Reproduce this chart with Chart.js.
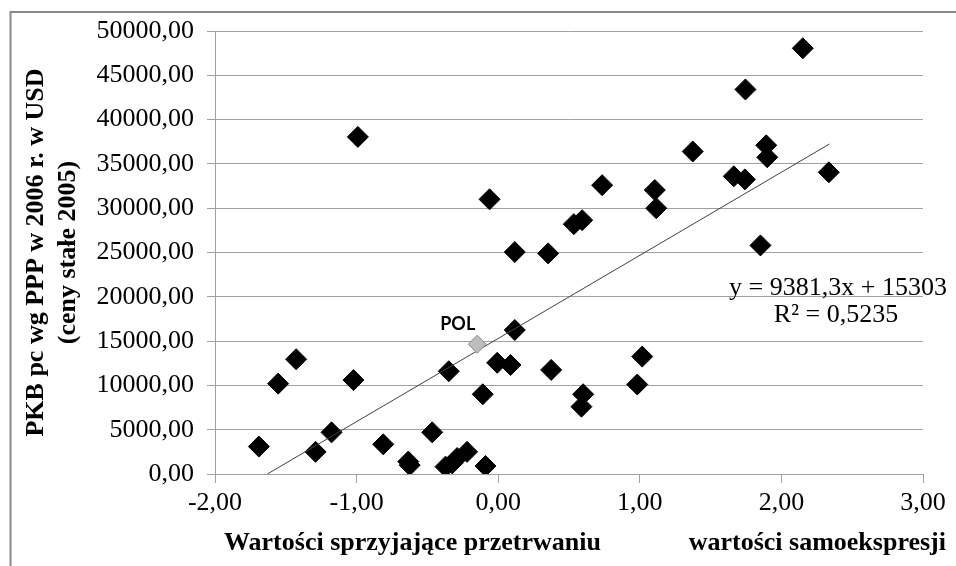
<!DOCTYPE html>
<html lang="pl">
<head>
<meta charset="utf-8">
<title>PKB pc a wartości</title>
<script src="https://cdn.jsdelivr.net/npm/chart.js@4.4.1/dist/chart.umd.min.js"></script>
<style>
  html, body { margin: 0; padding: 0; background: #fff; }
  canvas { display: block; }
</style>
</head>
<body>
<canvas id="scatter" width="956" height="566"></canvas>
<script>
// oś X: wartości przetrwania (-) / samoekspresji (+), oś Y: PKB pc wg PPP 2006
const countryX = [-1.69, -1.554, -1.427, -1.29, -1.177, -1.022, -0.991, -0.812, -0.635, -0.625,
  -0.466, -0.372, -0.349, -0.325, -0.29, -0.22, -0.109, -0.09, -0.061, -0.007,
  0.087, 0.117, 0.117, 0.353, 0.374, 0.534, 0.593, 0.600, 0.588, 0.734,
  0.982, 1.017, 1.106, 1.116, 1.374, 1.664, 1.742, 1.746, 1.893, 1.90,
  1.852, 2.151, 2.335];
const countryY = [3100, 10200, 12950, 2500, 4700, 10600, 38050, 3350, 1400, 1000,
  4700, 830, 11600, 1200, 1800, 2500, 9000, 900, 31000, 12550,
  12300, 16250, 25050, 24900, 11750, 28200, 28650, 9000, 7600, 32600,
  10100, 13250, 32050, 30000, 36400, 33600, 33250, 43400, 37100, 35750,
  25800, 48050, 34050];

const polX = [-0.148];
const polY = [14650];
const polLabel = "POL";

// linia trendu
const trendX = [-1.63, 2.34];
const trendY = [0, 37250];

const xTickValues = [-2, -1, 0, 1, 2, 3];
const yTickValues = [0, 5000, 10000, 15000, 20000, 25000, 30000, 35000, 40000, 45000, 50000];

const yTitle = ["PKB pc wg PPP w 2006 r. w USD", "(ceny stałe 2005)"];
const xTitleLeft = "Wartości sprzyjające przetrwaniu";
const xTitleRight = "wartości samoekspresji";
const equation = "y = 9381,3x + 15303";
const rSquared = "R² = 0,5235";

const serif = "'Liberation Serif', 'Times New Roman', serif";
const gridColor = "#a0a0a0";

function pairs(xs, ys) {
  return xs.map((x, i) => ({ x: x, y: ys[i] }));
}

function fmt(v) {
  return Number(v).toFixed(2).replace('.', ',');
}

const annotations = {
  id: 'annotations',
  beforeDraw(chart) {
    const ctx = chart.ctx;
    ctx.save();
    ctx.strokeStyle = '#888888';
    ctx.lineWidth = 2;
    ctx.strokeRect(10.5, 12, 1000, 1000);
    ctx.restore();
  },
  afterDraw(chart) {
    const ctx = chart.ctx;
    const xs = chart.scales.x;
    const ys = chart.scales.y;
    ctx.save();
    ctx.fillStyle = '#000';

    // podpisy osi X
    ctx.font = "bold 26px " + serif;
    ctx.textBaseline = 'alphabetic';
    ctx.textAlign = 'left';
    ctx.fillText(xTitleLeft, 224, 550);
    ctx.textAlign = 'right';
    ctx.fillText(xTitleRight, 946, 550);

    // równanie trendu
    ctx.font = "26px " + serif;
    ctx.textAlign = 'center';
    ctx.fillText(equation, 838, 295);
    ctx.fillText(rSquared, 836, 322);

    // etykieta Polski
    ctx.font = "bold 18px Lato, 'Open Sans', sans-serif";
    ctx.textAlign = 'right';
    const px = xs.getPixelForValue(polX[0]);
    const py = ys.getPixelForValue(polY[0]);
    ctx.fillText(polLabel, px - 2, py - 14);
    ctx.restore();
  }
};

new Chart(document.getElementById("scatter"), {
  type: 'scatter',
  data: {
    datasets: [
      {
        type: 'line',
        data: pairs(trendX, trendY),
        borderColor: '#404040',
        borderWidth: 1,
        pointRadius: 0,
        fill: false,
        order: 1
      },
      {
        data: pairs(polX, polY),
        pointStyle: 'rectRot',
        pointRadius: 9,
        backgroundColor: '#bdbdbd',
        borderColor: '#8a8a8a',
        borderWidth: 1,
        order: 0
      },
      {
        data: pairs(countryX, countryY),
        pointStyle: 'rectRot',
        pointRadius: 10.5,
        backgroundColor: '#000',
        borderColor: '#000',
        borderWidth: 1,
        order: 2
      }
    ]
  },
  options: {
    responsive: false,
    animation: false,
    layout: { padding: { left: 12, top: 31, right: 33, bottom: 0 } },
    plugins: {
      legend: { display: false },
      tooltip: { enabled: false }
    },
    scales: {
      x: {
        type: 'linear',
        min: -2,
        max: 3,
        afterBuildTicks: function (scale) {
          scale.ticks = xTickValues.map(v => ({ value: v }));
        },
        afterFit: function (scale) {
          scale.height = 92;
        },
        ticks: {
          color: '#000',
          padding: 5,
          maxRotation: 0,
          font: { family: serif, size: 26 },
          callback: fmt
        },
        grid: {
          drawOnChartArea: false,
          drawTicks: true,
          tickLength: 9,
          color: gridColor
        },
        border: { color: gridColor }
      },
      y: {
        type: 'linear',
        min: 0,
        max: 50000,
        afterBuildTicks: function (scale) {
          scale.ticks = yTickValues.map(v => ({ value: v }));
        },
        afterFit: function (scale) {
          scale.width = 203;
        },
        ticks: {
          color: '#000',
          padding: 13,
          font: { family: serif, size: 26 },
          callback: fmt
        },
        grid: {
          tickLength: 8,
          color: gridColor
        },
        border: { color: gridColor },
        title: {
          display: true,
          text: yTitle,
          color: '#000',
          font: { family: serif, size: 26, weight: 'bold', lineHeight: 1.25 },
          padding: { top: 8, bottom: 0 }
        }
      }
    }
  },
  plugins: [annotations]
});
</script>
</body>
</html>
